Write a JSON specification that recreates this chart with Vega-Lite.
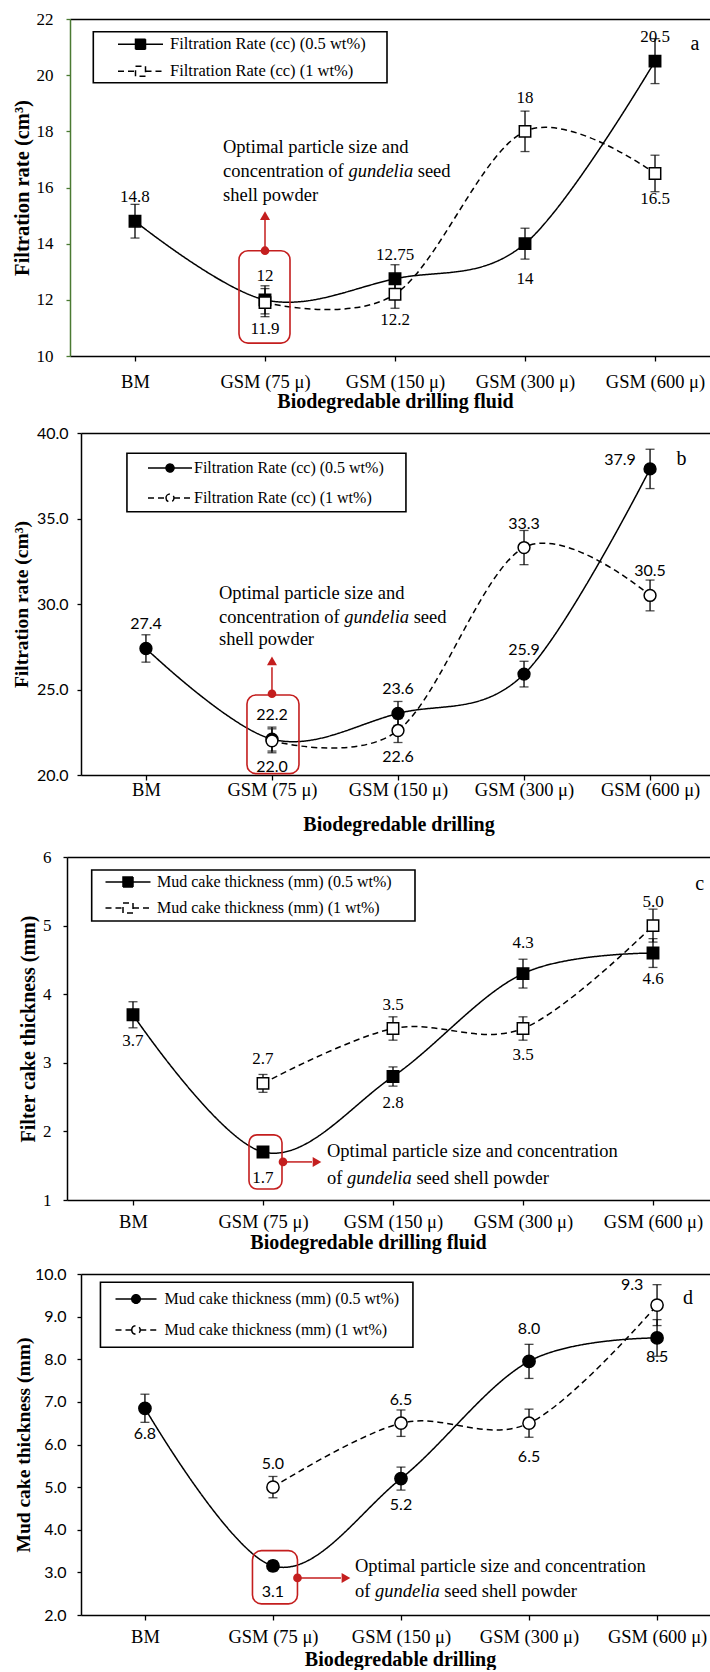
{
  "$schema": "https://vega.github.io/schema/vega-lite/v6.json",
  "padding": {"left": 11, "top": 10, "right": 0, "bottom": 0},
  "spacing": 13,
  "resolve": {"scale": {"strokeDash": "independent", "fill": "independent"}, "legend": {"strokeDash": "independent", "fill": "independent"}},
  "datasets": {
    "fa": [
      {"cat": "BM", "series": "Filtration Rate (cc) (0.5 wt%)", "value": 14.8, "err": 0.6, "label": "14.8", "pos": "above"},
      {"cat": "GSM (75 μ)", "series": "Filtration Rate (cc) (0.5 wt%)", "value": 12.0, "err": 0.5, "label": "12", "pos": "above"},
      {"cat": "GSM (150 μ)", "series": "Filtration Rate (cc) (0.5 wt%)", "value": 12.75, "err": 0.5, "label": "12.75", "pos": "above"},
      {"cat": "GSM (300 μ)", "series": "Filtration Rate (cc) (0.5 wt%)", "value": 14.0, "err": 0.55, "label": "14", "pos": "farBelow"},
      {"cat": "GSM (600 μ)", "series": "Filtration Rate (cc) (0.5 wt%)", "value": 20.5, "err": 0.8, "label": "20.5", "pos": "above"},
      {"cat": "GSM (75 μ)", "series": "Filtration Rate (cc) (1 wt%)", "value": 11.9, "err": 0.5, "label": "11.9", "pos": "below"},
      {"cat": "GSM (150 μ)", "series": "Filtration Rate (cc) (1 wt%)", "value": 12.2, "err": 0.5, "label": "12.2", "pos": "below"},
      {"cat": "GSM (300 μ)", "series": "Filtration Rate (cc) (1 wt%)", "value": 18.0, "err": 0.72, "label": "18", "pos": "farAbove"},
      {"cat": "GSM (600 μ)", "series": "Filtration Rate (cc) (1 wt%)", "value": 16.5, "err": 0.65, "label": "16.5", "pos": "below"}
    ],
    "fb": [
      {"cat": "BM", "series": "Filtration Rate (cc) (0.5 wt%)", "value": 27.4, "err": 0.8, "label": "27.4", "pos": "above"},
      {"cat": "GSM (75 μ)", "series": "Filtration Rate (cc) (0.5 wt%)", "value": 22.1, "err": 0.7, "label": "22.2", "pos": "above"},
      {"cat": "GSM (150 μ)", "series": "Filtration Rate (cc) (0.5 wt%)", "value": 23.6, "err": 0.7, "label": "23.6", "pos": "above"},
      {"cat": "GSM (300 μ)", "series": "Filtration Rate (cc) (0.5 wt%)", "value": 25.9, "err": 0.75, "label": "25.9", "pos": "above"},
      {"cat": "GSM (600 μ)", "series": "Filtration Rate (cc) (0.5 wt%)", "value": 37.9, "err": 1.15, "label": "37.9", "pos": "left"},
      {"cat": "GSM (75 μ)", "series": "Filtration Rate (cc) (1 wt%)", "value": 22.0, "err": 0.7, "label": "22.0", "pos": "below"},
      {"cat": "GSM (150 μ)", "series": "Filtration Rate (cc) (1 wt%)", "value": 22.6, "err": 0.7, "label": "22.6", "pos": "below"},
      {"cat": "GSM (300 μ)", "series": "Filtration Rate (cc) (1 wt%)", "value": 33.3, "err": 1.0, "label": "33.3", "pos": "above"},
      {"cat": "GSM (600 μ)", "series": "Filtration Rate (cc) (1 wt%)", "value": 30.5, "err": 0.9, "label": "30.5", "pos": "above"}
    ],
    "mc": [
      {"cat": "BM", "series": "Mud cake thickness (mm) (0.5 wt%)", "value": 3.7, "err": 0.19, "label": "3.7", "pos": "below"},
      {"cat": "GSM (75 μ)", "series": "Mud cake thickness (mm) (0.5 wt%)", "value": 1.7, "err": 0.04, "label": "1.7", "pos": "below"},
      {"cat": "GSM (150 μ)", "series": "Mud cake thickness (mm) (0.5 wt%)", "value": 2.8, "err": 0.14, "label": "2.8", "pos": "below"},
      {"cat": "GSM (300 μ)", "series": "Mud cake thickness (mm) (0.5 wt%)", "value": 4.3, "err": 0.21, "label": "4.3", "pos": "farAbove"},
      {"cat": "GSM (600 μ)", "series": "Mud cake thickness (mm) (0.5 wt%)", "value": 4.6, "err": 0.21, "label": "4.6", "pos": "below"},
      {"cat": "GSM (75 μ)", "series": "Mud cake thickness (mm) (1 wt%)", "value": 2.7, "err": 0.13, "label": "2.7", "pos": "above"},
      {"cat": "GSM (150 μ)", "series": "Mud cake thickness (mm) (1 wt%)", "value": 3.5, "err": 0.17, "label": "3.5", "pos": "above"},
      {"cat": "GSM (300 μ)", "series": "Mud cake thickness (mm) (1 wt%)", "value": 3.5, "err": 0.17, "label": "3.5", "pos": "below"},
      {"cat": "GSM (600 μ)", "series": "Mud cake thickness (mm) (1 wt%)", "value": 5.0, "err": 0.24, "label": "5.0", "pos": "above"}
    ],
    "md": [
      {"cat": "BM", "series": "Mud cake thickness (mm) (0.5 wt%)", "value": 6.85, "err": 0.33, "label": "6.8", "pos": "below"},
      {"cat": "GSM (75 μ)", "series": "Mud cake thickness (mm) (0.5 wt%)", "value": 3.15, "err": 0.12, "label": "3.1", "pos": "below"},
      {"cat": "GSM (150 μ)", "series": "Mud cake thickness (mm) (0.5 wt%)", "value": 5.2, "err": 0.27, "label": "5.2", "pos": "below"},
      {"cat": "GSM (300 μ)", "series": "Mud cake thickness (mm) (0.5 wt%)", "value": 7.95, "err": 0.4, "label": "8.0", "pos": "farAbove"},
      {"cat": "GSM (600 μ)", "series": "Mud cake thickness (mm) (0.5 wt%)", "value": 8.5, "err": 0.43, "label": "8.5", "pos": "nearBelow"},
      {"cat": "GSM (75 μ)", "series": "Mud cake thickness (mm) (1 wt%)", "value": 5.0, "err": 0.25, "label": "5.0", "pos": "above"},
      {"cat": "GSM (150 μ)", "series": "Mud cake thickness (mm) (1 wt%)", "value": 6.5, "err": 0.31, "label": "6.5", "pos": "above"},
      {"cat": "GSM (300 μ)", "series": "Mud cake thickness (mm) (1 wt%)", "value": 6.5, "err": 0.33, "label": "6.5", "pos": "farBelow"},
      {"cat": "GSM (600 μ)", "series": "Mud cake thickness (mm) (1 wt%)", "value": 9.27, "err": 0.48, "label": "9.3", "pos": "upleft"}
    ]
  },
  "vconcat": [
    {
      "width": 629, "height": 337,
      "data": {"name": "fa"},
      "resolve": {"axis": {"x": "independent"}},
      "layer": [
        {"mark": {"type": "line", "interpolate": "cardinal", "color": "black", "strokeWidth": 1.5},
         "encoding": {
           "x": {"field": "cat", "type": "nominal", "sort": ["BM", "GSM (75 μ)", "GSM (150 μ)", "GSM (300 μ)", "GSM (600 μ)"],
                 "scale": {"type": "point", "domain": ["BM", "GSM (75 μ)", "GSM (150 μ)", "GSM (300 μ)", "GSM (600 μ)"], "range": [-11, 629], "padding": 0.4615, "align": 0.5417},
                 "axis": {"title": "Biodegredable drilling fluid", "titleX": 314, "labelAngle": 0, "tickSize": 5, "labelPadding": 11, "labelFont": "Liberation Serif", "labelFontSize": 18.5, "titleFont": "Liberation Serif", "titleFontSize": 20, "titleFontWeight": "bold", "titlePadding": 1}},
           "y": {"field": "value", "type": "quantitative", "scale": {"domain": [10, 22]},
                 "axis": {"title": "Filtration rate (cm³)", "values": [10, 12, 14, 16, 18, 20, 22], "format": "d", "offset": 11, "tickSize": 4, "labelPadding": 13, "labelFont": "Liberation Serif", "labelFontSize": 17, "titleFont": "Liberation Serif", "titleFontSize": 20.5, "titleFontWeight": "bold", "titlePadding": 4, "domainColor": "#4a7a32", "tickColor": "#4a7a32"}},
           "strokeDash": {"field": "series", "type": "nominal", "scale": {"domain": ["Filtration Rate (cc) (0.5 wt%)", "Filtration Rate (cc) (1 wt%)"], "range": [[1, 0], [6, 4]]},
                 "legend": {"orient": "none", "legendX": 12, "legendY": 13, "title": null, "symbolType": "M-4.5,0H-1M1,0H4.5M-1,-1H1V1H-1Z", "symbolSize": 100, "symbolOffset": 35.25, "labelOffset": 21.25, "labelFontSize": 16.5, "padding": 4, "rowPadding": 10}}
         }},
        {"data": {"values": [{}]},
         "mark": {"type": "rect", "fill": "transparent", "stroke": "black", "strokeWidth": 1.6, "xOffset": -41.7, "x2Offset": 252},
         "encoding": {"x": {"datum": "BM", "type": "nominal", "axis": null}, "x2": {"datum": "BM"}, "y": {"datum": 21.548, "type": "quantitative"}, "y2": {"datum": 19.731}}},
        {"mark": {"type": "errorbar", "color": "black", "thickness": 1.3, "ticks": {"size": 9, "thickness": 1.3}},
         "encoding": {
           "x": {"field": "cat", "type": "nominal", "sort": ["BM", "GSM (75 μ)", "GSM (150 μ)", "GSM (300 μ)", "GSM (600 μ)"], "axis": null},
           "y": {"field": "value", "type": "quantitative", "title": "Filtration rate (cm³)"},
           "yError": {"field": "err"}
         }},
        {"mark": {"type": "point", "shape": "square", "filled": true, "size": 130, "stroke": "black", "strokeWidth": 1.5, "opacity": 1},
         "encoding": {
           "x": {"field": "cat", "type": "nominal", "sort": ["BM", "GSM (75 μ)", "GSM (150 μ)", "GSM (300 μ)", "GSM (600 μ)"], "axis": null},
           "y": {"field": "value", "type": "quantitative", "title": "Filtration rate (cm³)"},
           "fill": {"field": "series", "type": "nominal", "scale": {"domain": ["Filtration Rate (cc) (0.5 wt%)", "Filtration Rate (cc) (1 wt%)"], "range": ["black", "white"]},
                 "legend": {"orient": "none", "legendX": 12, "legendY": 13, "title": null, "symbolType": "M-4.5,0H-1M1,0H4.5M-1,-1H1V1H-1Z", "symbolSize": 100, "symbolOffset": 35.25, "labelOffset": 21.25, "labelFontSize": 16.5, "padding": 4, "rowPadding": 10}}
         }},
        {"mark": {"type": "text", "font": "Liberation Serif", "fontSize": 17, "color": "black",
                  "dx": {"expr": "datum.pos=='left'?-30:datum.pos=='upleft'?-25:0"},
                  "dy": {"expr": "datum.pos=='above'?-24:datum.pos=='below'?26:datum.pos=='farAbove'?-33:datum.pos=='farBelow'?35:datum.pos=='nearBelow'?19:datum.pos=='left'?-9:datum.pos=='upleft'?-20:0"}},
         "encoding": {
           "x": {"field": "cat", "type": "nominal", "sort": ["BM", "GSM (75 μ)", "GSM (150 μ)", "GSM (300 μ)", "GSM (600 μ)"], "axis": {"orient": "top", "labels": false, "ticks": false, "title": null, "domain": true}},
           "y": {"field": "value", "type": "quantitative", "title": "Filtration rate (cm³)"},
           "text": {"field": "label"}
         }},
        {"data": {"values": [{}]},
         "mark": {"type": "rect", "width": 51, "cornerRadius": 9, "fill": "transparent", "stroke": "#c41e1e", "strokeWidth": 1.6, "xOffset": -0.5},
         "encoding": {"x": {"datum": "GSM (75 μ)", "type": "nominal", "axis": null}, "y": {"datum": 13.75, "type": "quantitative"}, "y2": {"datum": 10.46}}},
        {"data": {"values": [{}]},
         "mark": {"type": "rule", "color": "#c41e1e", "strokeWidth": 1.5},
         "encoding": {"x": {"datum": "GSM (75 μ)", "type": "nominal", "axis": null}, "y": {"datum": 13.75, "type": "quantitative"}, "y2": {"datum": 14.84}}},
        {"data": {"values": [{}]},
         "mark": {"type": "point", "shape": "circle", "filled": true, "size": 75, "color": "#c41e1e", "opacity": 1},
         "encoding": {"x": {"datum": "GSM (75 μ)", "type": "nominal", "axis": null}, "y": {"datum": 13.75, "type": "quantitative"}}},
        {"data": {"values": [{}]},
         "mark": {"type": "point", "shape": "triangle-up", "filled": true, "size": 100, "color": "#c41e1e", "opacity": 1},
         "encoding": {"x": {"datum": "GSM (75 μ)", "type": "nominal", "axis": null}, "y": {"datum": 15.0, "type": "quantitative"}}},
        {"data": {"values": [{}]},
         "mark": {"type": "text", "text": "Optimal particle size and", "align": "left", "baseline": "middle", "font": "Liberation Serif", "fontSize": 18.5, "color": "black", "dx": -42},
         "encoding": {"x": {"datum": "GSM (75 μ)", "type": "nominal", "axis": null}, "y": {"datum": 17.44, "type": "quantitative"}}},
        {"data": {"values": [{}]},
         "mark": {"type": "text", "text": "concentration of", "align": "left", "baseline": "middle", "font": "Liberation Serif", "fontSize": 18.5, "color": "black", "dx": -42},
         "encoding": {"x": {"datum": "GSM (75 μ)", "type": "nominal", "axis": null}, "y": {"datum": 16.59, "type": "quantitative"}}},
        {"data": {"values": [{}]},
         "mark": {"type": "text", "text": "gundelia", "align": "left", "baseline": "middle", "font": "Liberation Serif", "fontStyle": "italic", "fontSize": 18.5, "color": "black", "dx": 83.4},
         "encoding": {"x": {"datum": "GSM (75 μ)", "type": "nominal", "axis": null}, "y": {"datum": 16.59, "type": "quantitative"}}},
        {"data": {"values": [{}]},
         "mark": {"type": "text", "text": "seed", "align": "left", "baseline": "middle", "font": "Liberation Serif", "fontSize": 18.5, "color": "black", "dx": 152.7},
         "encoding": {"x": {"datum": "GSM (75 μ)", "type": "nominal", "axis": null}, "y": {"datum": 16.59, "type": "quantitative"}}},
        {"data": {"values": [{}]},
         "mark": {"type": "text", "text": "shell powder", "align": "left", "baseline": "middle", "font": "Liberation Serif", "fontSize": 18.5, "color": "black", "dx": -42},
         "encoding": {"x": {"datum": "GSM (75 μ)", "type": "nominal", "axis": null}, "y": {"datum": 15.73, "type": "quantitative"}}},
        {"data": {"values": [{}]},
         "mark": {"type": "text", "text": "a", "align": "center", "baseline": "middle", "font": "Liberation Serif", "fontSize": 20, "color": "black", "dx": 40},
         "encoding": {"x": {"datum": "GSM (600 μ)", "type": "nominal", "axis": null}, "y": {"datum": 21.11, "type": "quantitative"}}}
      ]
    },
    {
      "width": 629, "height": 342,
      "data": {"name": "fb"},
      "resolve": {"axis": {"x": "independent"}},
      "layer": [
        {"mark": {"type": "line", "interpolate": "cardinal", "color": "black", "strokeWidth": 1.5},
         "encoding": {
           "x": {"field": "cat", "type": "nominal", "sort": ["BM", "GSM (75 μ)", "GSM (150 μ)", "GSM (300 μ)", "GSM (600 μ)"],
                 "scale": {"type": "point", "domain": ["BM", "GSM (75 μ)", "GSM (150 μ)", "GSM (300 μ)", "GSM (600 μ)"], "range": [0, 629], "padding": 0.4955, "align": 0.52},
                 "axis": {"title": "Biodegredable drilling", "titleX": 317.5, "labelAngle": 0, "tickSize": 5, "labelPadding": 0, "labelFont": "Liberation Serif", "labelFontSize": 18.5, "titleFont": "Liberation Serif", "titleFontSize": 20, "titleFontWeight": "bold", "titlePadding": 15.8}},
           "y": {"field": "value", "type": "quantitative", "scale": {"domain": [20, 40]},
                 "axis": {"title": "Filtration rate (cm³)", "values": [20, 25, 30, 35, 40], "format": ".1f", "tickSize": 4, "labelPadding": 9, "labelFont": "Lato", "labelFontSize": 16, "titleFont": "Liberation Serif", "titleFontSize": 19.5, "titleFontWeight": "bold", "titlePadding": 5}},
           "strokeDash": {"field": "series", "type": "nominal", "scale": {"domain": ["Filtration Rate (cc) (0.5 wt%)", "Filtration Rate (cc) (1 wt%)"], "range": [[1, 0], [6, 4]]},
                 "legend": {"orient": "none", "legendX": 46, "legendY": 20, "title": null, "symbolType": "M-4.4,0H-0.8M0.8,0H4.4M-0.8,0C-0.8,-0.442 -0.442,-0.8 0,-0.8C0.442,-0.8 0.8,-0.442 0.8,0C0.8,0.442 0.442,0.8 0,0.8C-0.442,0.8 -0.8,0.442 -0.8,0Z", "symbolSize": 100, "symbolOffset": 28, "labelOffset": 16, "labelFontSize": 16, "padding": 7, "rowPadding": 14}}
         }},
        {"data": {"values": [{}]},
         "mark": {"type": "rect", "fill": "transparent", "stroke": "black", "strokeWidth": 1.6, "xOffset": -19, "x2Offset": 260},
         "encoding": {"x": {"datum": "BM", "type": "nominal", "axis": null}, "x2": {"datum": "BM"}, "y": {"datum": 38.813, "type": "quantitative"}, "y2": {"datum": 35.398}}},
        {"mark": {"type": "errorbar", "color": "black", "thickness": 1.3, "ticks": {"size": 9, "thickness": 1.3}},
         "encoding": {
           "x": {"field": "cat", "type": "nominal", "sort": ["BM", "GSM (75 μ)", "GSM (150 μ)", "GSM (300 μ)", "GSM (600 μ)"], "axis": null},
           "y": {"field": "value", "type": "quantitative", "title": "Filtration rate (cm³)"},
           "yError": {"field": "err"}
         }},
        {"mark": {"type": "point", "shape": "circle", "filled": true, "size": 140, "stroke": "black", "strokeWidth": 1.5, "opacity": 1},
         "encoding": {
           "x": {"field": "cat", "type": "nominal", "sort": ["BM", "GSM (75 μ)", "GSM (150 μ)", "GSM (300 μ)", "GSM (600 μ)"], "axis": null},
           "y": {"field": "value", "type": "quantitative", "title": "Filtration rate (cm³)"},
           "fill": {"field": "series", "type": "nominal", "scale": {"domain": ["Filtration Rate (cc) (0.5 wt%)", "Filtration Rate (cc) (1 wt%)"], "range": ["black", "white"]},
                 "legend": {"orient": "none", "legendX": 46, "legendY": 20, "title": null, "symbolType": "M-4.4,0H-0.8M0.8,0H4.4M-0.8,0C-0.8,-0.442 -0.442,-0.8 0,-0.8C0.442,-0.8 0.8,-0.442 0.8,0C0.8,0.442 0.442,0.8 0,0.8C-0.442,0.8 -0.8,0.442 -0.8,0Z", "symbolSize": 100, "symbolOffset": 28, "labelOffset": 16, "labelFontSize": 16, "padding": 7, "rowPadding": 14}}
         }},
        {"mark": {"type": "text", "font": "Lato", "fontSize": 16, "color": "black",
                  "dx": {"expr": "datum.pos=='left'?-30:datum.pos=='upleft'?-25:0"},
                  "dy": {"expr": "datum.pos=='above'?-24:datum.pos=='below'?26:datum.pos=='farAbove'?-33:datum.pos=='farBelow'?35:datum.pos=='nearBelow'?19:datum.pos=='left'?-9:datum.pos=='upleft'?-20:0"}},
         "encoding": {
           "x": {"field": "cat", "type": "nominal", "sort": ["BM", "GSM (75 μ)", "GSM (150 μ)", "GSM (300 μ)", "GSM (600 μ)"], "axis": {"orient": "top", "labels": false, "ticks": false, "title": null, "domain": true}},
           "y": {"field": "value", "type": "quantitative", "title": "Filtration rate (cm³)"},
           "text": {"field": "label"}
         }},
        {"data": {"values": [{}]},
         "mark": {"type": "rect", "width": 52, "cornerRadius": 9, "fill": "transparent", "stroke": "#c41e1e", "strokeWidth": 1.6, "xOffset": 1},
         "encoding": {"x": {"datum": "GSM (75 μ)", "type": "nominal", "axis": null}, "y": {"datum": 24.68, "type": "quantitative"}, "y2": {"datum": 20.08}}},
        {"data": {"values": [{}]},
         "mark": {"type": "rule", "color": "#c41e1e", "strokeWidth": 1.5},
         "encoding": {"x": {"datum": "GSM (75 μ)", "type": "nominal", "axis": null}, "y": {"datum": 24.75, "type": "quantitative"}, "y2": {"datum": 26.3}}},
        {"data": {"values": [{}]},
         "mark": {"type": "point", "shape": "circle", "filled": true, "size": 75, "color": "#c41e1e", "opacity": 1},
         "encoding": {"x": {"datum": "GSM (75 μ)", "type": "nominal", "axis": null}, "y": {"datum": 24.75, "type": "quantitative"}}},
        {"data": {"values": [{}]},
         "mark": {"type": "point", "shape": "triangle-up", "filled": true, "size": 100, "color": "#c41e1e", "opacity": 1},
         "encoding": {"x": {"datum": "GSM (75 μ)", "type": "nominal", "axis": null}, "y": {"datum": 26.67, "type": "quantitative"}}},
        {"data": {"values": [{}]},
         "mark": {"type": "text", "text": "Optimal particle size and", "align": "left", "baseline": "middle", "font": "Liberation Serif", "fontSize": 18.5, "color": "black", "dx": -53},
         "encoding": {"x": {"datum": "GSM (75 μ)", "type": "nominal", "axis": null}, "y": {"datum": 30.64, "type": "quantitative"}}},
        {"data": {"values": [{}]},
         "mark": {"type": "text", "text": "concentration of", "align": "left", "baseline": "middle", "font": "Liberation Serif", "fontSize": 18.5, "color": "black", "dx": -53},
         "encoding": {"x": {"datum": "GSM (75 μ)", "type": "nominal", "axis": null}, "y": {"datum": 29.24, "type": "quantitative"}}},
        {"data": {"values": [{}]},
         "mark": {"type": "text", "text": "gundelia", "align": "left", "baseline": "middle", "font": "Liberation Serif", "fontStyle": "italic", "fontSize": 18.5, "color": "black", "dx": 72.4},
         "encoding": {"x": {"datum": "GSM (75 μ)", "type": "nominal", "axis": null}, "y": {"datum": 29.24, "type": "quantitative"}}},
        {"data": {"values": [{}]},
         "mark": {"type": "text", "text": "seed", "align": "left", "baseline": "middle", "font": "Liberation Serif", "fontSize": 18.5, "color": "black", "dx": 141.7},
         "encoding": {"x": {"datum": "GSM (75 μ)", "type": "nominal", "axis": null}, "y": {"datum": 29.24, "type": "quantitative"}}},
        {"data": {"values": [{}]},
         "mark": {"type": "text", "text": "shell powder", "align": "left", "baseline": "middle", "font": "Liberation Serif", "fontSize": 18.5, "color": "black", "dx": -53},
         "encoding": {"x": {"datum": "GSM (75 μ)", "type": "nominal", "axis": null}, "y": {"datum": 27.95, "type": "quantitative"}}},
        {"data": {"values": [{}]},
         "mark": {"type": "text", "text": "b", "align": "center", "baseline": "middle", "font": "Liberation Serif", "fontSize": 20, "color": "black", "dx": 31.5},
         "encoding": {"x": {"datum": "GSM (600 μ)", "type": "nominal", "axis": null}, "y": {"datum": 38.48, "type": "quantitative"}}}
      ]
    },
    {
      "width": 629, "height": 343,
      "data": {"name": "mc"},
      "resolve": {"axis": {"x": "independent"}},
      "layer": [
        {"mark": {"type": "line", "interpolate": "cardinal", "color": "black", "strokeWidth": 1.5},
         "encoding": {
           "x": {"field": "cat", "type": "nominal", "sort": ["BM", "GSM (75 μ)", "GSM (150 μ)", "GSM (300 μ)", "GSM (600 μ)"],
                 "scale": {"type": "point", "domain": ["BM", "GSM (75 μ)", "GSM (150 μ)", "GSM (300 μ)", "GSM (600 μ)"], "range": [-14, 629], "padding": 0.473, "align": 0.5366},
                 "axis": {"title": "Biodegredable drilling fluid", "titleX": 287, "labelAngle": 0, "tickSize": 5, "labelPadding": 7, "labelFont": "Liberation Serif", "labelFontSize": 18.5, "titleFont": "Liberation Serif", "titleFontSize": 20, "titleFontWeight": "bold", "titlePadding": 2}},
           "y": {"field": "value", "type": "quantitative", "scale": {"domain": [1, 6]},
                 "axis": {"title": "Filter cake thickness (mm)", "values": [1, 2, 3, 4, 5, 6], "format": "d", "offset": 14, "tickSize": 4, "labelPadding": 12, "labelFont": "Liberation Serif", "labelFontSize": 17, "titleFont": "Liberation Serif", "titleFontSize": 20, "titleFontWeight": "bold", "titlePadding": 4}},
           "strokeDash": {"field": "series", "type": "nominal", "scale": {"domain": ["Mud cake thickness (mm) (0.5 wt%)", "Mud cake thickness (mm) (1 wt%)"], "range": [[1, 0], [6, 4]]},
                 "legend": {"orient": "none", "legendX": 11, "legendY": 13, "title": null, "symbolType": "M-4.5,0H-1M1,0H4.5M-1,-1H1V1H-1Z", "symbolSize": 100, "symbolOffset": 24, "labelOffset": 21, "labelFontSize": 16, "padding": 4, "rowPadding": 10}}
         }},
        {"data": {"values": [{}]},
         "mark": {"type": "rect", "fill": "transparent", "stroke": "black", "strokeWidth": 1.6, "xOffset": -41.3, "x2Offset": 282},
         "encoding": {"x": {"datum": "BM", "type": "nominal", "axis": null}, "x2": {"datum": "BM"}, "y": {"datum": 5.8105, "type": "quantitative"}, "y2": {"datum": 5.067}}},
        {"mark": {"type": "errorbar", "color": "black", "thickness": 1.3, "ticks": {"size": 9, "thickness": 1.3}},
         "encoding": {
           "x": {"field": "cat", "type": "nominal", "sort": ["BM", "GSM (75 μ)", "GSM (150 μ)", "GSM (300 μ)", "GSM (600 μ)"], "axis": null},
           "y": {"field": "value", "type": "quantitative", "title": "Filter cake thickness (mm)"},
           "yError": {"field": "err"}
         }},
        {"mark": {"type": "point", "shape": "square", "filled": true, "size": 130, "stroke": "black", "strokeWidth": 1.5, "opacity": 1},
         "encoding": {
           "x": {"field": "cat", "type": "nominal", "sort": ["BM", "GSM (75 μ)", "GSM (150 μ)", "GSM (300 μ)", "GSM (600 μ)"], "axis": null},
           "y": {"field": "value", "type": "quantitative", "title": "Filter cake thickness (mm)"},
           "fill": {"field": "series", "type": "nominal", "scale": {"domain": ["Mud cake thickness (mm) (0.5 wt%)", "Mud cake thickness (mm) (1 wt%)"], "range": ["black", "white"]},
                 "legend": {"orient": "none", "legendX": 11, "legendY": 13, "title": null, "symbolType": "M-4.5,0H-1M1,0H4.5M-1,-1H1V1H-1Z", "symbolSize": 100, "symbolOffset": 24, "labelOffset": 21, "labelFontSize": 16, "padding": 4, "rowPadding": 10}}
         }},
        {"mark": {"type": "text", "font": "Liberation Serif", "fontSize": 17, "color": "black",
                  "dx": {"expr": "datum.pos=='left'?-30:datum.pos=='upleft'?-25:0"},
                  "dy": {"expr": "datum.pos=='above'?-24:datum.pos=='below'?26:datum.pos=='farAbove'?-31:datum.pos=='farBelow'?35:datum.pos=='nearBelow'?19:datum.pos=='left'?-9:datum.pos=='upleft'?-20:0"}},
         "encoding": {
           "x": {"field": "cat", "type": "nominal", "sort": ["BM", "GSM (75 μ)", "GSM (150 μ)", "GSM (300 μ)", "GSM (600 μ)"], "axis": {"orient": "top", "labels": false, "ticks": false, "title": null, "domain": true}},
           "y": {"field": "value", "type": "quantitative", "title": "Filter cake thickness (mm)"},
           "text": {"field": "label"}
         }},
        {"data": {"values": [{}]},
         "mark": {"type": "rect", "width": 33, "cornerRadius": 8, "fill": "transparent", "stroke": "#c41e1e", "strokeWidth": 1.6, "xOffset": 2.5},
         "encoding": {"x": {"datum": "GSM (75 μ)", "type": "nominal", "axis": null}, "y": {"datum": 1.95, "type": "quantitative"}, "y2": {"datum": 1.16}}},
        {"data": {"values": [{}]},
         "mark": {"type": "rule", "color": "#c41e1e", "strokeWidth": 1.5, "xOffset": 20, "x2Offset": 49},
         "encoding": {"x": {"datum": "GSM (75 μ)", "type": "nominal", "axis": null}, "x2": {"datum": "GSM (75 μ)"}, "y": {"datum": 1.555, "type": "quantitative"}}},
        {"data": {"values": [{}]},
         "mark": {"type": "point", "shape": "circle", "filled": true, "size": 75, "color": "#c41e1e", "opacity": 1, "xOffset": 20},
         "encoding": {"x": {"datum": "GSM (75 μ)", "type": "nominal", "axis": null}, "y": {"datum": 1.555, "type": "quantitative"}}},
        {"data": {"values": [{}]},
         "mark": {"type": "point", "shape": "triangle-right", "filled": true, "size": 100, "color": "#c41e1e", "opacity": 1, "xOffset": 54},
         "encoding": {"x": {"datum": "GSM (75 μ)", "type": "nominal", "axis": null}, "y": {"datum": 1.555, "type": "quantitative"}}},
        {"data": {"values": [{}]},
         "mark": {"type": "text", "text": "Optimal particle size and concentration", "align": "left", "baseline": "middle", "font": "Liberation Serif", "fontSize": 18.5, "color": "black", "dx": 64},
         "encoding": {"x": {"datum": "GSM (75 μ)", "type": "nominal", "axis": null}, "y": {"datum": 1.714, "type": "quantitative"}}},
        {"data": {"values": [{}]},
         "mark": {"type": "text", "text": "of", "align": "left", "baseline": "middle", "font": "Liberation Serif", "fontSize": 18.5, "color": "black", "dx": 64},
         "encoding": {"x": {"datum": "GSM (75 μ)", "type": "nominal", "axis": null}, "y": {"datum": 1.32, "type": "quantitative"}}},
        {"data": {"values": [{}]},
         "mark": {"type": "text", "text": "gundelia", "align": "left", "baseline": "middle", "font": "Liberation Serif", "fontStyle": "italic", "fontSize": 18.5, "color": "black", "dx": 84},
         "encoding": {"x": {"datum": "GSM (75 μ)", "type": "nominal", "axis": null}, "y": {"datum": 1.32, "type": "quantitative"}}},
        {"data": {"values": [{}]},
         "mark": {"type": "text", "text": "seed shell powder", "align": "left", "baseline": "middle", "font": "Liberation Serif", "fontSize": 18.5, "color": "black", "dx": 153.4},
         "encoding": {"x": {"datum": "GSM (75 μ)", "type": "nominal", "axis": null}, "y": {"datum": 1.32, "type": "quantitative"}}},
        {"data": {"values": [{}]},
         "mark": {"type": "text", "text": "c", "align": "center", "baseline": "middle", "font": "Liberation Serif", "fontSize": 20, "color": "black", "dx": 46.6},
         "encoding": {"x": {"datum": "GSM (600 μ)", "type": "nominal", "axis": null}, "y": {"datum": 5.61, "type": "quantitative"}}}
      ]
    },
    {
      "width": 629, "height": 341,
      "data": {"name": "md"},
      "resolve": {"axis": {"x": "independent"}},
      "layer": [
        {"mark": {"type": "line", "interpolate": "cardinal", "color": "black", "strokeWidth": 1.5},
         "encoding": {
           "x": {"field": "cat", "type": "nominal", "sort": ["BM", "GSM (75 μ)", "GSM (150 μ)", "GSM (300 μ)", "GSM (600 μ)"],
                 "scale": {"type": "point", "domain": ["BM", "GSM (75 μ)", "GSM (150 μ)", "GSM (300 μ)", "GSM (600 μ)"], "range": [0, 629], "padding": 0.4565, "align": 0.547},
                 "axis": {"title": "Biodegredable drilling", "titleX": 319, "labelAngle": 0, "tickSize": 5, "labelPadding": 7.5, "labelFont": "Liberation Serif", "labelFontSize": 18.5, "titleFont": "Liberation Serif", "titleFontSize": 20, "titleFontWeight": "bold", "titlePadding": 3.5}},
           "y": {"field": "value", "type": "quantitative", "scale": {"domain": [2, 10]},
                 "axis": {"title": "Mud cake thickness (mm)", "values": [2, 3, 4, 5, 6, 7, 8, 9, 10], "format": ".1f", "tickSize": 4, "labelPadding": 11, "labelFont": "Lato", "labelFontSize": 16, "titleFont": "Liberation Serif", "titleFontSize": 19.5, "titleFontWeight": "bold", "titlePadding": 1}},
           "strokeDash": {"field": "series", "type": "nominal", "scale": {"domain": ["Mud cake thickness (mm) (0.5 wt%)", "Mud cake thickness (mm) (1 wt%)"], "range": [[1, 0], [6, 4]]},
                 "legend": {"orient": "none", "legendX": 19.5, "legendY": 8, "title": null, "symbolType": "M-4.1,0H-0.85M0.85,0H4.1M-0.85,0C-0.85,-0.47 -0.47,-0.85 0,-0.85C0.47,-0.85 0.85,-0.47 0.85,0C0.85,0.47 0.47,0.85 0,0.85C-0.47,0.85 -0.85,0.47 -0.85,0Z", "symbolSize": 100, "symbolOffset": 18.5, "labelOffset": 20.5, "labelFontSize": 16, "padding": 9, "rowPadding": 15}}
         }},
        {"data": {"values": [{}]},
         "mark": {"type": "rect", "fill": "transparent", "stroke": "black", "strokeWidth": 1.6, "xOffset": -44.5, "x2Offset": 268},
         "encoding": {"x": {"datum": "BM", "type": "nominal", "axis": null}, "x2": {"datum": "BM"}, "y": {"datum": 9.805, "type": "quantitative"}, "y2": {"datum": 8.28}}},
        {"mark": {"type": "errorbar", "color": "black", "thickness": 1.3, "ticks": {"size": 9, "thickness": 1.3}},
         "encoding": {
           "x": {"field": "cat", "type": "nominal", "sort": ["BM", "GSM (75 μ)", "GSM (150 μ)", "GSM (300 μ)", "GSM (600 μ)"], "axis": null},
           "y": {"field": "value", "type": "quantitative", "title": "Mud cake thickness (mm)"},
           "yError": {"field": "err"}
         }},
        {"mark": {"type": "point", "shape": "circle", "filled": true, "size": 150, "stroke": "black", "strokeWidth": 1.5, "opacity": 1},
         "encoding": {
           "x": {"field": "cat", "type": "nominal", "sort": ["BM", "GSM (75 μ)", "GSM (150 μ)", "GSM (300 μ)", "GSM (600 μ)"], "axis": null},
           "y": {"field": "value", "type": "quantitative", "title": "Mud cake thickness (mm)"},
           "fill": {"field": "series", "type": "nominal", "scale": {"domain": ["Mud cake thickness (mm) (0.5 wt%)", "Mud cake thickness (mm) (1 wt%)"], "range": ["black", "white"]},
                 "legend": {"orient": "none", "legendX": 19.5, "legendY": 8, "title": null, "symbolType": "M-4.1,0H-0.85M0.85,0H4.1M-0.85,0C-0.85,-0.47 -0.47,-0.85 0,-0.85C0.47,-0.85 0.85,-0.47 0.85,0C0.85,0.47 0.47,0.85 0,0.85C-0.47,0.85 -0.85,0.47 -0.85,0Z", "symbolSize": 100, "symbolOffset": 18.5, "labelOffset": 20.5, "labelFontSize": 16, "padding": 9, "rowPadding": 15}}
         }},
        {"mark": {"type": "text", "font": "Lato", "fontSize": 16, "color": "black",
                  "dx": {"expr": "datum.pos=='left'?-30:datum.pos=='upleft'?-25:0"},
                  "dy": {"expr": "datum.pos=='above'?-23:datum.pos=='below'?26:datum.pos=='farAbove'?-32:datum.pos=='farBelow'?34:datum.pos=='nearBelow'?19:datum.pos=='left'?-9:datum.pos=='upleft'?-20:0"}},
         "encoding": {
           "x": {"field": "cat", "type": "nominal", "sort": ["BM", "GSM (75 μ)", "GSM (150 μ)", "GSM (300 μ)", "GSM (600 μ)"], "axis": {"orient": "top", "labels": false, "ticks": false, "title": null, "domain": true}},
           "y": {"field": "value", "type": "quantitative", "title": "Mud cake thickness (mm)"},
           "text": {"field": "label"}
         }},
        {"data": {"values": [{}]},
         "mark": {"type": "rect", "width": 45, "cornerRadius": 9, "fill": "transparent", "stroke": "#c41e1e", "strokeWidth": 1.6, "xOffset": 2},
         "encoding": {"x": {"datum": "GSM (75 μ)", "type": "nominal", "axis": null}, "y": {"datum": 3.51, "type": "quantitative"}, "y2": {"datum": 2.26}}},
        {"data": {"values": [{}]},
         "mark": {"type": "rule", "color": "#c41e1e", "strokeWidth": 1.5, "xOffset": 24.5, "x2Offset": 68},
         "encoding": {"x": {"datum": "GSM (75 μ)", "type": "nominal", "axis": null}, "x2": {"datum": "GSM (75 μ)"}, "y": {"datum": 2.87, "type": "quantitative"}}},
        {"data": {"values": [{}]},
         "mark": {"type": "point", "shape": "circle", "filled": true, "size": 75, "color": "#c41e1e", "opacity": 1, "xOffset": 24.5},
         "encoding": {"x": {"datum": "GSM (75 μ)", "type": "nominal", "axis": null}, "y": {"datum": 2.87, "type": "quantitative"}}},
        {"data": {"values": [{}]},
         "mark": {"type": "point", "shape": "triangle-right", "filled": true, "size": 100, "color": "#c41e1e", "opacity": 1, "xOffset": 73},
         "encoding": {"x": {"datum": "GSM (75 μ)", "type": "nominal", "axis": null}, "y": {"datum": 2.87, "type": "quantitative"}}},
        {"data": {"values": [{}]},
         "mark": {"type": "text", "text": "Optimal particle size and concentration", "align": "left", "baseline": "middle", "font": "Liberation Serif", "fontSize": 18.5, "color": "black", "dx": 82},
         "encoding": {"x": {"datum": "GSM (75 μ)", "type": "nominal", "axis": null}, "y": {"datum": 3.16, "type": "quantitative"}}},
        {"data": {"values": [{}]},
         "mark": {"type": "text", "text": "of", "align": "left", "baseline": "middle", "font": "Liberation Serif", "fontSize": 18.5, "color": "black", "dx": 82},
         "encoding": {"x": {"datum": "GSM (75 μ)", "type": "nominal", "axis": null}, "y": {"datum": 2.57, "type": "quantitative"}}},
        {"data": {"values": [{}]},
         "mark": {"type": "text", "text": "gundelia", "align": "left", "baseline": "middle", "font": "Liberation Serif", "fontStyle": "italic", "fontSize": 18.5, "color": "black", "dx": 102},
         "encoding": {"x": {"datum": "GSM (75 μ)", "type": "nominal", "axis": null}, "y": {"datum": 2.57, "type": "quantitative"}}},
        {"data": {"values": [{}]},
         "mark": {"type": "text", "text": "seed shell powder", "align": "left", "baseline": "middle", "font": "Liberation Serif", "fontSize": 18.5, "color": "black", "dx": 171.4},
         "encoding": {"x": {"datum": "GSM (75 μ)", "type": "nominal", "axis": null}, "y": {"datum": 2.57, "type": "quantitative"}}},
        {"data": {"values": [{}]},
         "mark": {"type": "text", "text": "d", "align": "center", "baseline": "middle", "font": "Liberation Serif", "fontSize": 20, "color": "black", "dx": 31},
         "encoding": {"x": {"datum": "GSM (600 μ)", "type": "nominal", "axis": null}, "y": {"datum": 9.44, "type": "quantitative"}}}
      ]
    }
  ],
  "config": {
    "view": {"stroke": null},
    "axis": {"grid": false, "domainColor": "black", "tickColor": "black", "labelColor": "black", "titleColor": "black", "domainWidth": 1.5, "tickWidth": 1.3},
    "legend": {"symbolSize": 100, "symbolStrokeWidth": 1.5, "symbolStrokeColor": "black", "labelFont": "Liberation Serif", "labelColor": "black", "labelLimit": 400, "strokeColor": "transparent", "fillColor": "transparent"}
  }
}
